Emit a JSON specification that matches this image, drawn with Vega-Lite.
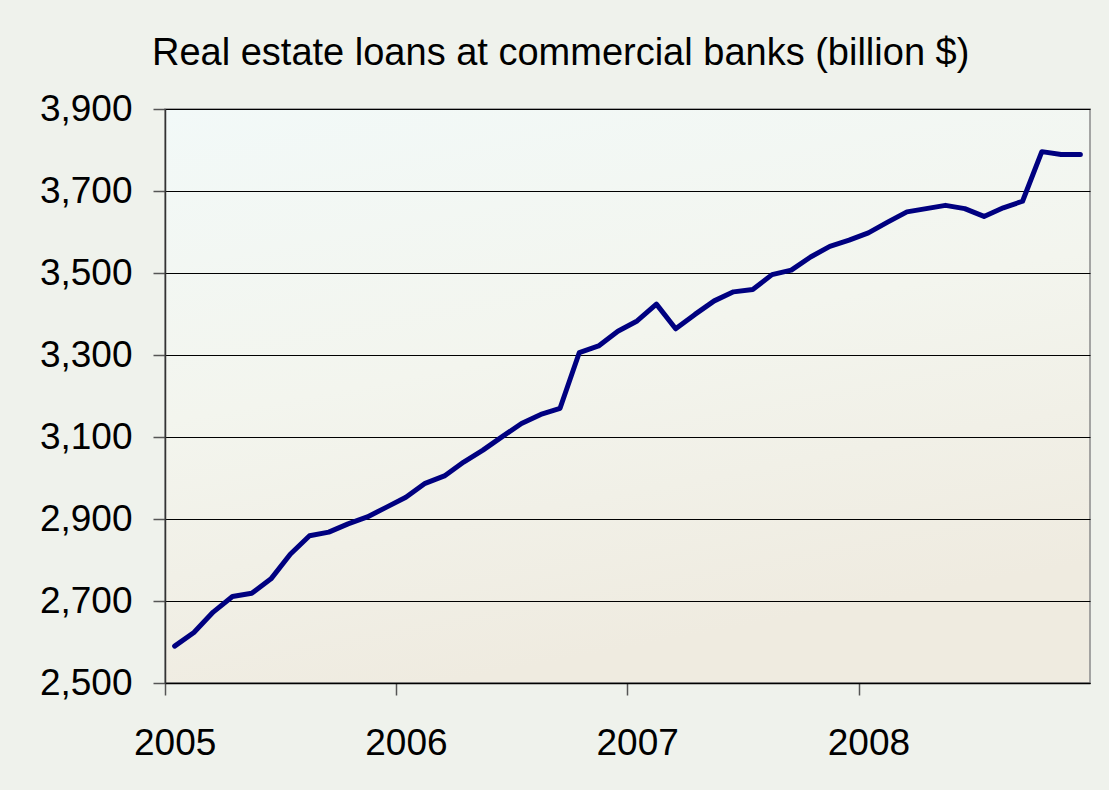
{
  "$schema": "https://vega.github.io/schema/vega-lite/v6.json",
  "width": 925,
  "height": 574,
  "autosize": {"type": "none"},
  "padding": {"left": 165, "top": 109, "right": 19, "bottom": 107},
  "background": "#eff2ec",
  "title": {
    "text": "Real estate loans at commercial banks (billion $)",
    "anchor": "start",
    "frame": "group",
    "dx": -13,
    "font": "Liberation Sans",
    "fontSize": 38,
    "fontWeight": "normal",
    "color": "#000000",
    "baseline": "alphabetic",
    "offset": -13
  },
  "config": {
    "view": {
      "stroke": "#8a8a8a",
      "strokeWidth": 1.5,
      "fill": {
        "gradient": "linear",
        "x1": 0, "y1": 0, "x2": 0.3, "y2": 1,
        "stops": [
          {"offset": 0, "color": "#f2f9f8"},
          {"offset": 0.5, "color": "#f3f5ee"},
          {"offset": 1, "color": "#efebe0"}
        ]
      }
    },
    "axis": {
      "labelFont": "Liberation Sans",
      "labelFontSize": 37,
      "labelColor": "#000000",
      "domainColor": "#333333",
      "tickColor": "#555555",
      "tickSize": 12,
      "tickWidth": 1.5,
      "title": null
    }
  },
  "data": {
    "values": [
      {"month": "2005-01", "loans": 2590},
      {"month": "2005-02", "loans": 2623},
      {"month": "2005-03", "loans": 2673},
      {"month": "2005-04", "loans": 2711},
      {"month": "2005-05", "loans": 2719},
      {"month": "2005-06", "loans": 2754},
      {"month": "2005-07", "loans": 2814},
      {"month": "2005-08", "loans": 2859},
      {"month": "2005-09", "loans": 2868},
      {"month": "2005-10", "loans": 2888},
      {"month": "2005-11", "loans": 2905},
      {"month": "2005-12", "loans": 2929},
      {"month": "2006-01", "loans": 2953},
      {"month": "2006-02", "loans": 2987},
      {"month": "2006-03", "loans": 3005},
      {"month": "2006-04", "loans": 3039},
      {"month": "2006-05", "loans": 3068},
      {"month": "2006-06", "loans": 3101},
      {"month": "2006-07", "loans": 3133},
      {"month": "2006-08", "loans": 3155},
      {"month": "2006-09", "loans": 3170},
      {"month": "2006-10", "loans": 3306},
      {"month": "2006-11", "loans": 3322},
      {"month": "2006-12", "loans": 3358},
      {"month": "2007-01", "loans": 3383},
      {"month": "2007-02", "loans": 3424},
      {"month": "2007-03", "loans": 3364},
      {"month": "2007-04", "loans": 3399},
      {"month": "2007-05", "loans": 3432},
      {"month": "2007-06", "loans": 3454},
      {"month": "2007-07", "loans": 3460},
      {"month": "2007-08", "loans": 3496},
      {"month": "2007-09", "loans": 3507},
      {"month": "2007-10", "loans": 3539},
      {"month": "2007-11", "loans": 3565},
      {"month": "2007-12", "loans": 3580},
      {"month": "2008-01", "loans": 3598},
      {"month": "2008-02", "loans": 3624},
      {"month": "2008-03", "loans": 3649},
      {"month": "2008-04", "loans": 3657},
      {"month": "2008-05", "loans": 3665},
      {"month": "2008-06", "loans": 3657},
      {"month": "2008-07", "loans": 3638},
      {"month": "2008-08", "loans": 3659},
      {"month": "2008-09", "loans": 3675},
      {"month": "2008-10", "loans": 3796},
      {"month": "2008-11", "loans": 3789},
      {"month": "2008-12", "loans": 3789}
    ]
  },
  "mark": {"type": "line", "color": "#000080", "strokeWidth": 5, "strokeJoin": "round", "strokeCap": "round"},
  "encoding": {
    "x": {
      "field": "month",
      "type": "ordinal",
      "bandPosition": 0.5,
      "scale": {"type": "band", "paddingInner": 0, "paddingOuter": 0},
      "axis": {
        "values": ["2005-01", "2006-01", "2007-01", "2008-01"],
        "labelExpr": "substring(datum.label, 0, 4)",
        "labelAngle": 0,
        "tickOffset": -9.64,
        "labelOffset": 9.64,
        "labelPadding": 30,
        "domainColor": "#000000",
        "domainWidth": 1.5
      }
    },
    "y": {
      "field": "loans",
      "type": "quantitative",
      "scale": {"domain": [2500, 3900], "nice": false, "zero": false},
      "axis": {
        "values": [2500, 2700, 2900, 3100, 3300, 3500, 3700, 3900],
        "format": ",.0f",
        "grid": true,
        "gridColor": "#000000",
        "gridWidth": 1,
        "labelPadding": 21,
        "domainColor": "#333333",
        "domainWidth": 1.5
      }
    }
  }
}
